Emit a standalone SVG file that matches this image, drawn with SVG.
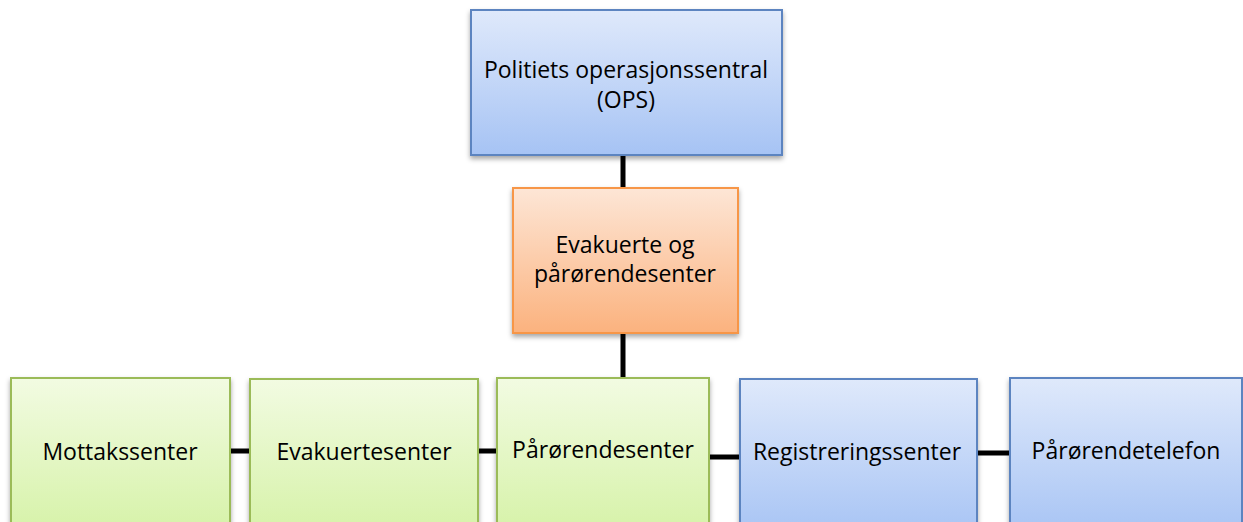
<svg xmlns="http://www.w3.org/2000/svg" width="1243" height="522" viewBox="0 0 1243 522">
<defs>
<linearGradient id="gBlue" x1="0" y1="0" x2="0" y2="1"><stop offset="0" stop-color="#dfe9fb"/><stop offset="1" stop-color="#a6c3f4"/></linearGradient>
<linearGradient id="gOrange" x1="0" y1="0" x2="0" y2="1"><stop offset="0" stop-color="#fde6d6"/><stop offset="1" stop-color="#fbb27e"/></linearGradient>
<linearGradient id="gGreen" x1="0" y1="0" x2="0" y2="1"><stop offset="0" stop-color="#f2fbe2"/><stop offset="1" stop-color="#d5f2a6"/></linearGradient>
<filter id="sh" x="-10%" y="-10%" width="120%" height="130%"><feDropShadow dx="0" dy="3" stdDeviation="2.5" flood-color="#000" flood-opacity="0.35"/></filter>
<style>
.box{stroke-width:2;filter:url(#sh)}
.blue{fill:url(#gBlue);stroke:#5b84c0}
.orange{fill:url(#gOrange);stroke:#f79646}
.green{fill:url(#gGreen);stroke:#9bbb59}
.t{font-family:"Open Sans","Liberation Sans",sans-serif;font-size:23px;fill:#000;text-anchor:middle}
.c{stroke:#000;stroke-width:5;fill:none}
</style>
</defs>
<rect width="1243" height="522" fill="#fff"/>
<g id="connectors">
<line class="c" x1="623" y1="155" x2="623" y2="188"/>
<line class="c" x1="623" y1="333" x2="623" y2="378"/>
<line class="c" x1="230" y1="451" x2="250" y2="451"/>
<line class="c" x1="478" y1="451" x2="497" y2="451"/>
<line class="c" x1="709" y1="457" x2="740" y2="457"/>
<line class="c" x1="977" y1="453" x2="1010" y2="453"/>
</g>
<g id="ops">
<rect class="box blue" x="471" y="10" width="311" height="145"/>
<text class="t" x="626" y="78">Politiets operasjonssentral</text>
<text class="t" x="626" y="108">(OPS)</text>
</g>
<g id="epc">
<rect class="box orange" x="513" y="188" width="225" height="145"/>
<text class="t" x="625" y="253">Evakuerte og</text>
<text class="t" x="625" y="282">pårørendesenter</text>
</g>
<g id="mottak">
<rect class="box green" x="11" y="378" width="219" height="160"/>
<text class="t" x="120" y="460">Mottakssenter</text>
</g>
<g id="evakuerte">
<rect class="box green" x="250" y="379" width="228" height="160"/>
<text class="t" x="364" y="460">Evakuertesenter</text>
</g>
<g id="parorende">
<rect class="box green" x="497" y="378" width="212" height="160"/>
<text class="t" x="603" y="458">Pårørendesenter</text>
</g>
<g id="registrering">
<rect class="box blue" x="740" y="379" width="237" height="160"/>
<text class="t" x="857" y="460">Registreringssenter</text>
</g>
<g id="telefon">
<rect class="box blue" x="1010" y="378" width="232" height="160"/>
<text class="t" x="1126" y="459">Pårørendetelefon</text>
</g>
</svg>
